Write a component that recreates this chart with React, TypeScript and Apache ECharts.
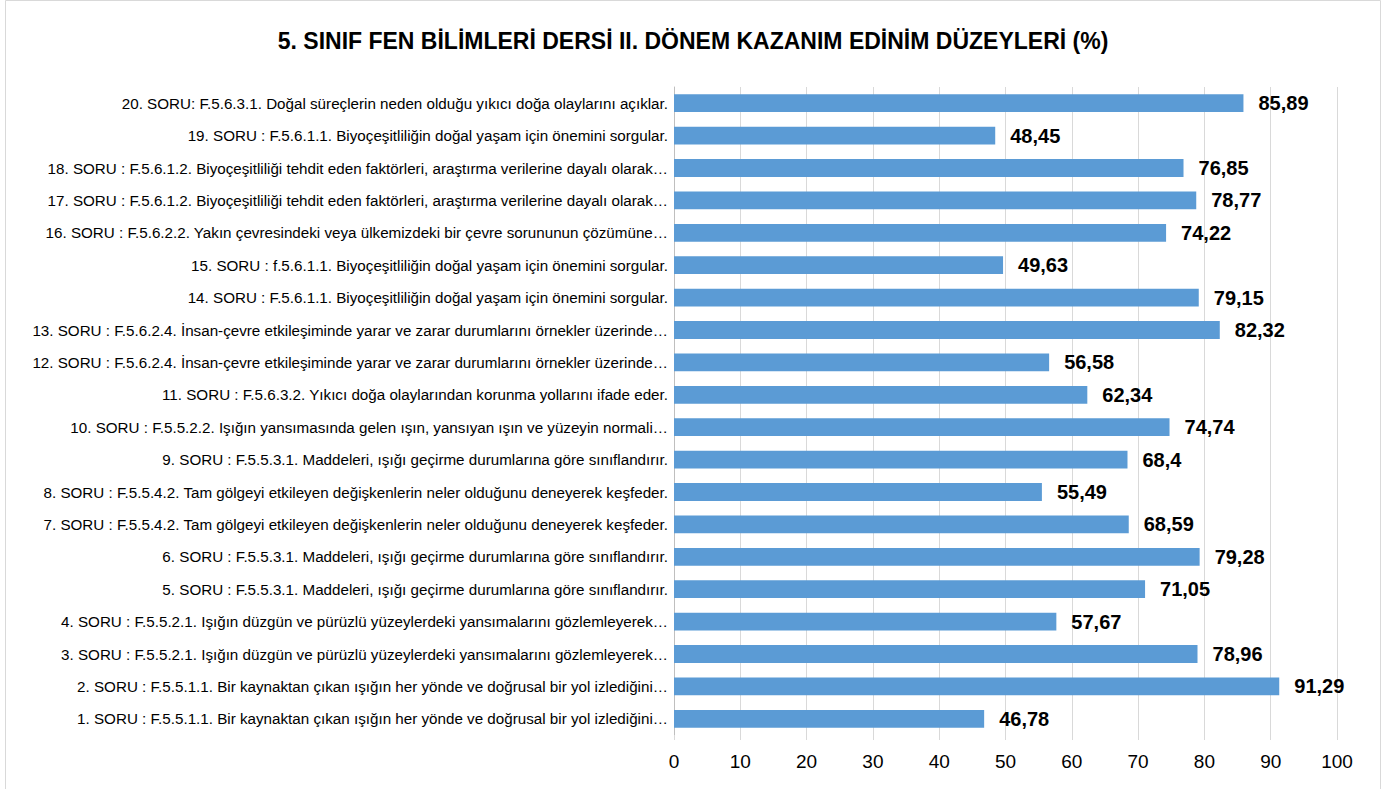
import React, { useEffect, useRef } from "react";
import * as echarts from "echarts";

const titleText = "5. SINIF FEN BİLİMLERİ DERSİ II. DÖNEM KAZANIM EDİNİM DÜZEYLERİ (%)";

const categories = [
  "1. SORU : F.5.5.1.1. Bir kaynaktan çıkan ışığın her yönde ve doğrusal bir yol izlediğini…",
  "2. SORU : F.5.5.1.1. Bir kaynaktan çıkan ışığın her yönde ve doğrusal bir yol izlediğini…",
  "3. SORU : F.5.5.2.1. Işığın düzgün ve pürüzlü yüzeylerdeki yansımalarını gözlemleyerek…",
  "4. SORU : F.5.5.2.1. Işığın düzgün ve pürüzlü yüzeylerdeki yansımalarını gözlemleyerek…",
  "5. SORU : F.5.5.3.1. Maddeleri, ışığı geçirme durumlarına göre sınıflandırır.",
  "6. SORU : F.5.5.3.1. Maddeleri, ışığı geçirme durumlarına göre sınıflandırır.",
  "7. SORU : F.5.5.4.2. Tam gölgeyi etkileyen değişkenlerin neler olduğunu deneyerek keşfeder.",
  "8. SORU : F.5.5.4.2. Tam gölgeyi etkileyen değişkenlerin neler olduğunu deneyerek keşfeder.",
  "9. SORU : F.5.5.3.1. Maddeleri, ışığı geçirme durumlarına göre sınıflandırır.",
  "10. SORU : F.5.5.2.2. Işığın yansımasında gelen ışın, yansıyan ışın ve yüzeyin normali…",
  "11. SORU : F.5.6.3.2. Yıkıcı doğa olaylarından korunma yollarını ifade eder.",
  "12. SORU : F.5.6.2.4. İnsan-çevre etkileşiminde yarar ve zarar durumlarını örnekler üzerinde…",
  "13. SORU : F.5.6.2.4. İnsan-çevre etkileşiminde yarar ve zarar durumlarını örnekler üzerinde…",
  "14. SORU : F.5.6.1.1. Biyoçeşitliliğin doğal yaşam için önemini sorgular.",
  "15. SORU : f.5.6.1.1. Biyoçeşitliliğin doğal yaşam için önemini sorgular.",
  "16. SORU : F.5.6.2.2. Yakın çevresindeki veya ülkemizdeki bir çevre sorununun çözümüne…",
  "17. SORU : F.5.6.1.2. Biyoçeşitliliği tehdit eden faktörleri, araştırma verilerine dayalı olarak…",
  "18. SORU : F.5.6.1.2. Biyoçeşitliliği tehdit eden faktörleri, araştırma verilerine dayalı olarak…",
  "19. SORU : F.5.6.1.1. Biyoçeşitliliğin doğal yaşam için önemini sorgular.",
  "20. SORU: F.5.6.3.1. Doğal süreçlerin neden olduğu yıkıcı doğa olaylarını açıklar.",
];

const values = [
  46.78, 91.29, 78.96, 57.67, 71.05, 79.28, 68.59, 55.49, 68.4, 74.74,
  62.34, 56.58, 82.32, 79.15, 49.63, 74.22, 78.77, 76.85, 48.45, 85.89,
];

const FONT = "'Liberation Sans Narrow', 'Arial Narrow', 'Liberation Sans', Arial, sans-serif";

export default function App() {
  const ref = useRef<HTMLDivElement>(null);
  useEffect(() => {
    if (!ref.current) return;
    const chart = echarts.init(ref.current, null, { renderer: "svg" });
    chart.setOption({
      animation: false,
      backgroundColor: "#ffffff",
      textStyle: { fontFamily: FONT },
      title: {
        text: titleText,
        left: "center",
        top: 24,
        textStyle: { fontFamily: FONT, fontSize: 23, fontWeight: "bold", color: "#000" },
      },
      graphic: [
        {
          type: "rect",
          shape: { x: 5.5, y: 0.5, width: 1375, height: 800 },
          style: { fill: "none", stroke: "#d9d9d9", lineWidth: 1 },
          silent: true,
        },
      ],
      grid: { left: 674, right: 49, top: 87, bottom: 54, containLabel: false },
      xAxis: {
        type: "value",
        min: 0,
        max: 100,
        interval: 10,
        axisLine: { show: false },
        axisTick: { show: true, length: 5, lineStyle: { color: "#d9d9d9" } },
        splitLine: { show: true, lineStyle: { color: "#d9d9d9", width: 1 } },
        axisLabel: { fontFamily: FONT, fontSize: 19, color: "#000", margin: 17 },
      },
      yAxis: {
        type: "category",
        data: categories,
        axisLine: { show: true, lineStyle: { color: "#bfbfbf" } },
        axisTick: { show: false },
        axisLabel: { fontFamily: FONT, fontSize: 15.2, color: "#000", margin: 6 },
      },
      series: [
        {
          type: "bar",
          data: values,
          barWidth: "55%",
          itemStyle: { color: "#5b9bd5" },
          label: {
            show: true,
            position: "right",
            distance: 15,
            fontFamily: FONT,
            fontSize: 20,
            fontWeight: "bold",
            color: "#000",
            formatter: (p: any) => String(p.value).replace(".", ","),
          },
        },
      ],
    });
    return () => chart.dispose();
  }, []);
  return (
    <div
      ref={ref}
      style={{ position: "absolute", left: 0, top: 0, width: 1386, height: 789 }}
    />
  );
}
